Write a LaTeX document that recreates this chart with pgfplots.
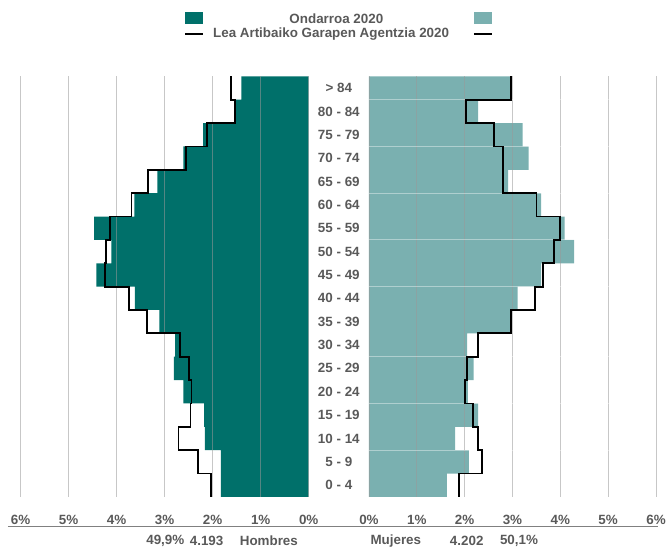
\documentclass[border=0pt]{standalone}
\usepackage{pgfplots}
\pgfplotsset{compat=1.18}
\usepackage{fontspec}
\setmainfont{Liberation Sans}
\definecolor{darkteal}{HTML}{00706A}
\definecolor{lightteal}{HTML}{7AB0B0}
\definecolor{txt}{HTML}{595959}
\newcommand{\lbl}{\fontsize{13.5}{16}\selectfont\bfseries}

\pgfplotsset{pyr/.style={
  set layers, axis on top,
  scale only axis, height=422.3bp,
  xmin=0, xmax=6, ymin=-0.5, ymax=17.5,
  xtick={0,1,2,3,4,5,6},
  xticklabels={0\%,1\%,2\%,3\%,4\%,5\%,6\%},
  axis line style={draw=none},
  major tick length=0pt, minor tick length=0pt,
  xmajorgrids,
  major grid style={draw=black!40, opacity=0.55, line width=0.8bp},
  minor ytick={1.5,3.5,5.5,8.5,10.5,12.5,14.5,16.5},
  yminorgrids,
  minor grid style={draw=white, opacity=0.4, line width=0.8bp},
  tick label style={font=\lbl, text=txt},
  xticklabel style={anchor=center, yshift=-22.7bp},
  clip=false,
}}

\begin{document}
\begin{tikzpicture}[x=1bp,y=1bp]
\path (0,0) rectangle (669,552);

% legend
\fill[darkteal] (186,528) rectangle (204.3,540.3);
\fill[lightteal] (476,528) rectangle (494.3,540.3);
\draw[black, line width=1.8bp] (186,517.7) -- (204,517.7);
\draw[black, line width=1.8bp] (476,517.7) -- (494,517.7);
\node[font=\lbl, text=txt] at (337.8,533.7) {Ondarroa 2020};
\node[font=\lbl, text=txt] at (332.5,517.7) {Lea Artibaiko Garapen Agentzia 2020};

% men
\begin{axis}[pyr, x dir=reverse, width=289.3bp, ytick=\empty,
  at={(310bp,53bp)}, anchor=south east]
\addplot[xbar, bar width=1, bar shift=0pt, fill=darkteal, draw=none] coordinates {
(1.83,0) (1.83,1) (2.16,2) (2.18,3) (2.61,4) (2.81,5) (2.78,6) (3.11,7) (3.62,8)
(4.42,9) (4.11,10) (4.47,11) (3.63,12) (3.15,13) (2.61,14) (2.20,15) (1.52,16) (1.40,17)};
\addplot[black, line width=1.8bp, on layer=axis foreground] coordinates {
(1.62,17.5)(1.62,16.5)(1.54,16.5)(1.54,15.5)(2.11,15.5)(2.11,14.5)(2.56,14.5)(2.56,13.5)
(3.34,13.5)(3.34,12.5)(3.69,12.5)(3.69,11.5)(4.14,11.5)(4.14,10.5)(4.22,10.5)(4.22,9.5)
(4.24,9.5)(4.24,8.5)(3.75,8.5)(3.75,7.5)(3.37,7.5)(3.37,6.5)(2.68,6.5)(2.68,5.5)
(2.49,5.5)(2.49,4.5)(2.44,4.5)(2.44,3.5)(2.46,3.5)(2.46,2.5)(2.71,2.5)(2.71,1.5)
(2.30,1.5)(2.30,0.5)(2.04,0.5)(2.04,-0.5)};
\end{axis}

% women
\begin{axis}[pyr, width=288.3bp,
  ytick={0,1,2,3,4,5,6,7,8,9,10,11,12,13,14,15,16,17},
  yticklabels={0 - 4,5 - 9,10 - 14,15 - 19,20 - 24,25 - 29,30 - 34,35 - 39,40 - 44,45 - 49,50 - 54,55 - 59,60 - 64,65 - 69,70 - 74,75 - 79,80 - 84,> 84},
  yticklabel style={anchor=center, xshift=-30.25bp},
  at={(370.5bp,53bp)}, anchor=south west]
\addplot[xbar, bar width=1, bar shift=0pt, fill=lightteal, draw=none] coordinates {
(1.63,0)(2.09,1)(1.80,2)(2.28,3)(2.07,4)(2.19,5)(2.05,6)(2.97,7)(3.11,8)
(3.60,9)(4.29,10)(4.09,11)(3.60,12)(2.91,13)(3.34,14)(3.21,15)(2.28,16)(2.97,17)};
\addplot[black, line width=1.8bp, on layer=axis foreground] coordinates {
(2.97,17.5)(2.97,16.5)(2.03,16.5)(2.03,15.5)(2.61,15.5)(2.61,14.5)(2.81,14.5)(2.81,13.5)
(2.81,12.5)(3.50,12.5)(3.50,11.5)(4.00,11.5)(4.00,10.5)(3.86,10.5)(3.86,9.5)
(3.64,9.5)(3.64,8.5)(3.47,8.5)(3.47,7.5)(2.97,7.5)(2.97,6.5)(2.28,6.5)(2.28,5.5)
(2.05,5.5)(2.05,4.5)(2.01,4.5)(2.01,3.5)(2.17,3.5)(2.17,2.5)(2.28,2.5)(2.28,1.5)
(2.37,1.5)(2.37,0.5)(1.88,0.5)(1.88,-0.5)};
\end{axis}

% bottom rule and texts
\draw[black!50, line width=1.2bp] (8,23) -- (661,23);
\node[font=\lbl, text=txt] at (166,8.7) {49,9\%};
\node[font=\lbl, text=txt] at (207.5,8.7) {4.193};
\node[font=\lbl, text=txt] at (270,8.7) {Hombres};
\node[font=\lbl, text=txt] at (397.5,8.7) {Mujeres};
\node[font=\lbl, text=txt] at (468.7,8.7) {4.202};
\node[font=\lbl, text=txt] at (521.2,8.7) {50,1\%};
\end{tikzpicture}
\end{document}
